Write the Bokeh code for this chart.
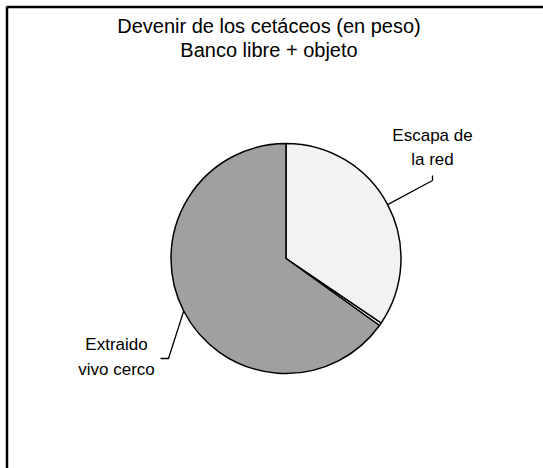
import math
from bokeh.plotting import figure
from bokeh.models import Range1d, ColumnDataSource
from bokeh.core.properties import value
from bokeh.embed import file_html
from bokeh.resources import INLINE

# ---- data ----
title_lines = ["Devenir de los cetáceos (en peso)", "Banco libre + objeto"]
categories = ["Escapa de la red", "Otros", "Extraido vivo cerco"]
label_texts = ["Escapa de\nla red", "", "Extraido\nvivo cerco"]
values = [34.5, 0.4, 65.1]
colors = ["#f2f2f2", "#ffffff", "#a0a0a0"]

W, H = 543, 468
FONT = "Liberation Sans"

def px(x):  # page x -> data x
    return x

def py(y):  # page y -> data y
    return H - y

p = figure(width=W, height=H, output_backend="svg", toolbar_location=None,
           x_range=Range1d(0, W), y_range=Range1d(0, H), min_border=0)
p.axis.visible = False
p.grid.visible = False
p.outline_line_color = None
p.background_fill_color = "white"
p.border_fill_color = "white"

# chart border (left and top visible)
p.line([px(6.5), px(6.5), W], [0, py(6.5), py(6.5)], line_color="black", line_width=2.5)

# pie
cx, cy, r = px(285.5), py(258), 115
total = sum(values)
starts, ends, mids = [], [], []
cum = 0.0
for v in values:
    a0 = math.radians(90 - 360 * (cum + v) / total)
    a1 = math.radians(90 - 360 * cum / total)
    starts.append(a0)
    ends.append(a1)
    mids.append(math.radians(90 - 360 * (cum + v / 2) / total))
    cum += v

src = ColumnDataSource(dict(start=starts, end=ends, color=colors, name=categories))
p.wedge(x=cx, y=cy, radius=r, start_angle="start", end_angle="end", source=src,
        fill_color="color", line_color="black", line_width=1.5)

# leader lines and labels
elbows = {0: [(432, 180), (432, 175)], 2: [(168, 358), (160, 358)]}
label_pos = {0: (432, 147), 2: (116, 356.5)}
for i, pts in elbows.items():
    xs = [cx + r * math.cos(mids[i])] + [px(a) for a, b in pts]
    ys = [cy + r * math.sin(mids[i])] + [py(b) for a, b in pts]
    p.line(xs, ys, line_color="black", line_width=1.3)

lx = [px(label_pos[i][0]) for i in (0, 2)]
ly = [py(label_pos[i][1]) for i in (0, 2)]
lt = [label_texts[i] for i in (0, 2)]
p.text(x=lx, y=ly, text=lt, text_font=value(FONT), text_font_size="17px",
       text_align="center", text_baseline="middle", text_line_height=1.3,
       text_color="black")

# title
p.text(x=[px(268.5)], y=[py(37.5)], text=["\n".join(title_lines)],
       text_font=value(FONT), text_font_size="20px", text_align="center",
       text_baseline="middle", text_line_height=1.05, text_color="black")

open("out.html", "w").write(file_html(p, INLINE))
